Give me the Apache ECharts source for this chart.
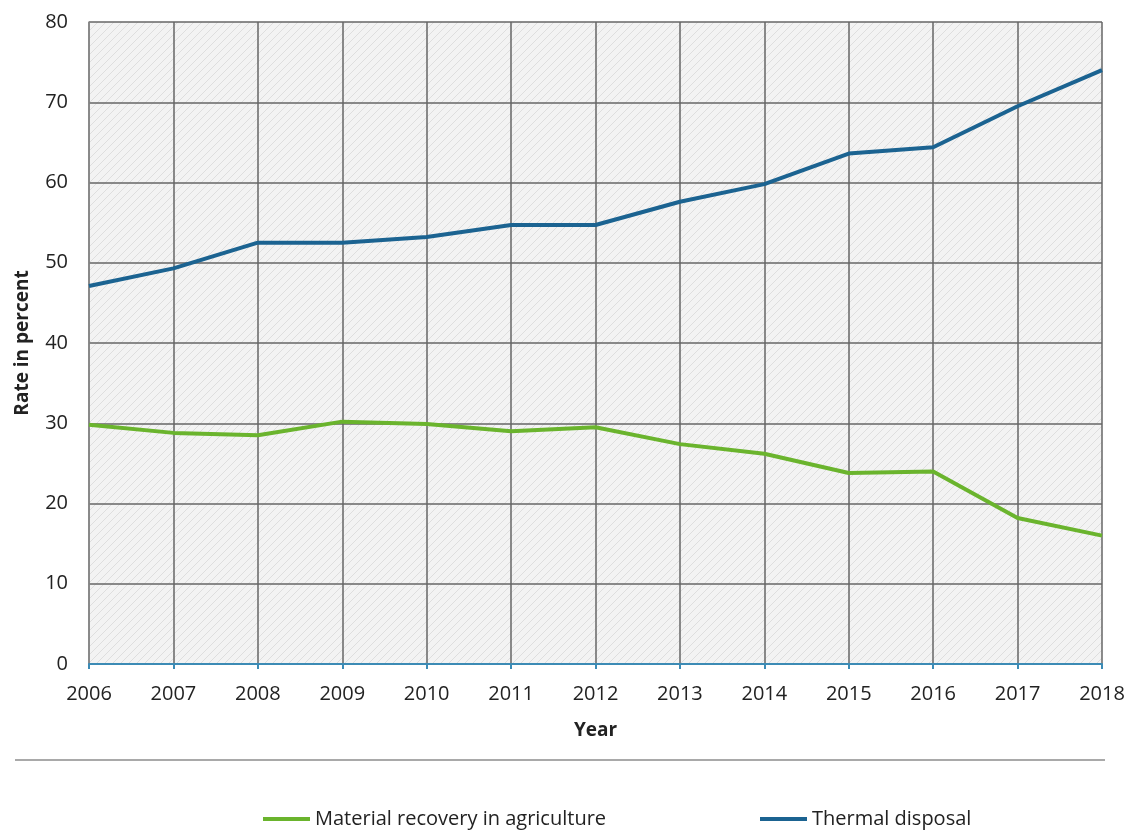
<!DOCTYPE html>
<html>
<head>
<meta charset="utf-8">
<script src="https://cdn.jsdelivr.net/npm/echarts@6/dist/echarts.min.js"></script>
<style>
  html, body { margin: 0; padding: 0; background: #fff; }
  #chart { width: 1131px; height: 832px; }
</style>
</head>
<body>
<div id="chart"></div>
<script>
// Years on the horizontal axis
const years = ['2006', '2007', '2008', '2009', '2010', '2011', '2012', '2013', '2014', '2015', '2016', '2017', '2018'];
// Share of sewage sludge by disposal route, in percent
const materialRecovery = [29.8, 28.8, 28.5, 30.2, 29.9, 29.0, 29.5, 27.4, 26.2, 23.8, 24.0, 18.2, 16.0];
const thermalDisposal = [47.1, 49.3, 52.5, 52.5, 53.2, 54.7, 54.7, 57.6, 59.8, 63.6, 64.4, 69.5, 74.0];
const seriesNames = ['Material recovery in agriculture', 'Thermal disposal'];

const FONT = '"Open Sans", "DejaVu Sans", sans-serif';

// Light hatched fill for the plotting area
function hatchPattern() {
  const c = document.createElement('canvas');
  c.width = 8; c.height = 8;
  const g = c.getContext('2d');
  g.fillStyle = '#f3f3f3';
  g.fillRect(0, 0, 8, 8);
  g.strokeStyle = '#dedede';
  g.lineWidth = 1;
  g.beginPath();
  g.moveTo(0, 8); g.lineTo(8, 0);
  g.moveTo(-4, 4); g.lineTo(4, -4);
  g.moveTo(4, 12); g.lineTo(12, 4);
  g.stroke();
  return { image: c, repeat: 'repeat' };
}

const chart = echarts.init(document.getElementById('chart'), null, { renderer: 'canvas' });

const legendText = { fontFamily: FONT, fontSize: 20, color: '#222' };

chart.setOption({
  animation: false,
  backgroundColor: '#ffffff',
  textStyle: { fontFamily: FONT },
  grid: {
    left: 89, right: 29, top: 22, bottom: 168,
    show: true,
    backgroundColor: hatchPattern(),
    borderWidth: 0
  },
  legend: [
    {
      data: [seriesNames[0]],
      left: 263, top: 809, padding: 0,
      icon: 'rect', itemWidth: 47, itemHeight: 4,
      textStyle: legendText
    },
    {
      data: [seriesNames[1]],
      left: 760, top: 809, padding: 0,
      icon: 'rect', itemWidth: 47, itemHeight: 4,
      textStyle: legendText
    }
  ],
  graphic: [
    {
      type: 'line',
      shape: { x1: 15, y1: 760, x2: 1105, y2: 760 },
      style: { stroke: '#a9a9a9', lineWidth: 2 }
    }
  ],
  xAxis: {
    type: 'category',
    data: years,
    boundaryGap: false,
    name: 'Year',
    nameLocation: 'middle',
    nameGap: 57,
    nameTextStyle: { fontFamily: FONT, fontSize: 19, fontWeight: 'bold', color: '#222' },
    axisLine: { show: true, lineStyle: { color: '#3c8bb5', width: 2 } },
    axisTick: { show: true, length: 5, lineStyle: { color: '#3c8bb5', width: 2 } },
    axisLabel: { fontFamily: FONT, fontSize: 20, color: '#222', margin: 20 },
    splitLine: { show: true, lineStyle: { color: '#666666', width: 1.5 } }
  },
  yAxis: {
    type: 'value',
    min: 0, max: 80, interval: 10,
    name: 'Rate in percent',
    nameLocation: 'middle',
    nameGap: 57,
    nameRotate: 90,
    nameTextStyle: { fontFamily: FONT, fontSize: 19, fontWeight: 'bold', color: '#222' },
    axisLine: { show: true, lineStyle: { color: '#8a8a8a', width: 1.5 } },
    axisTick: { show: false },
    axisLabel: { fontFamily: FONT, fontSize: 20, color: '#222', margin: 21 },
    splitLine: { show: true, lineStyle: { color: '#666666', width: 1.5 } }
  },
  series: [
    {
      name: seriesNames[0],
      type: 'line',
      data: materialRecovery,
      symbol: 'none',
      color: '#6ab42d',
      lineStyle: { width: 4, color: '#6ab42d' },
      z: 3
    },
    {
      name: seriesNames[1],
      type: 'line',
      data: thermalDisposal,
      symbol: 'none',
      color: '#1b6391',
      lineStyle: { width: 4, color: '#1b6391' },
      z: 3
    }
  ]
});
</script>
</body>
</html>
